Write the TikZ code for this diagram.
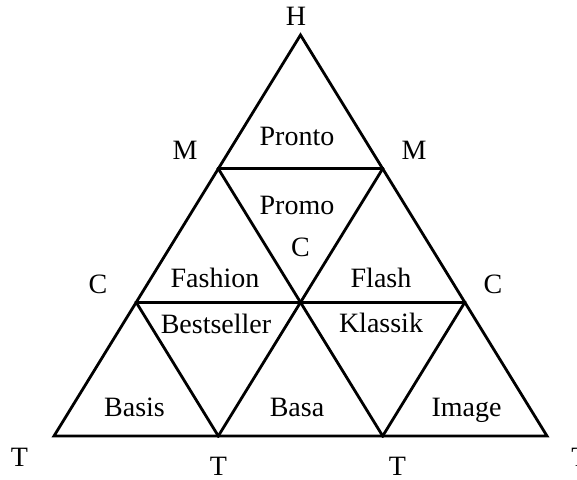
\documentclass[tikz,border=0pt]{standalone}
\usepackage{fontspec}
\setmainfont{Liberation Serif}
\usepackage{tikz}
\usetikzlibrary{positioning, calc}
\tikzstyle{edge} = [line width=2.8pt, line join=miter, line cap=rect]

\begin{document}
\begin{tikzpicture}[x=1pt, y=-1pt, every node/.style={font=\fontsize{28}{30}\selectfont, inner sep=0pt, anchor=base}]
    % Define styles with \tikzset
    \tikzset{
        corner_label/.style={text=black},
        cell_label/.style={text=black}
    }
    \useasboundingbox (0,0) rectangle (577,479);

    % --- GRID POINTS ---
    \coordinate (h)  at (300.5, 35);
    \coordinate (m1) at (218.3, 168.7);
    \coordinate (m2) at (382.7, 168.7);
    \coordinate (c1) at (136.2, 302.3);
    \coordinate (c2) at (300.5, 302.3);
    \coordinate (c3) at (464.8, 302.3);
    \coordinate (t1) at (54, 436);
    \coordinate (t2) at (218.3, 436);
    \coordinate (t3) at (382.7, 436);
    \coordinate (t4) at (547, 436);

    % --- TRIANGLE GRID ---
    \draw[edge] (t1) -- (t4) -- (h) -- cycle;
    \draw[edge] (m1) -- (m2);
    \draw[edge] (c1) -- (c3);
    \draw[edge] (t2) -- (c1);
    \draw[edge] (t2) -- (m2);
    \draw[edge] (t3) -- (m1);
    \draw[edge] (t3) -- (c3);

    % --- CORNER LABELS ---
    \node (lblH)  [corner_label] at (296, 25) {H};
    \node (lblM1) [corner_label] at (185, 159) {M};
    \node (lblM2) [corner_label] at (414, 159) {M};
    \node (lblC1) [corner_label] at (98, 293) {C};
    \node (lblC2) [corner_label] at (300.5, 256) {C};
    \node (lblC3) [corner_label] at (493, 293) {C};
    \node (lblT1) [corner_label] at (19.5, 466) {T};
    \node (lblT2) [corner_label] at (218.5, 475) {T};
    \node (lblT3) [corner_label] at (397.5, 475) {T};
    \node (lblT4) [corner_label] at (580, 466) {T};

    % --- CELL LABELS ---
    \node (pronto)     [cell_label] at (297, 145) {Pronto};
    \node (promo)      [cell_label] at (297, 214) {Promo};
    \node (fashion)    [cell_label] at (215, 287) {Fashion};
    \node (flash)      [cell_label] at (381, 287) {Flash};
    \node (bestseller) [cell_label] at (216, 333) {Bestseller};
    \node (klassik)    [cell_label] at (381, 332) {Klassik};
    \node (basis)      [cell_label] at (134.5, 416) {Basis};
    \node (basa)       [cell_label] at (297, 416) {Basa};
    \node (image)      [cell_label] at (466.5, 416) {Image};

\end{tikzpicture}
\end{document}
